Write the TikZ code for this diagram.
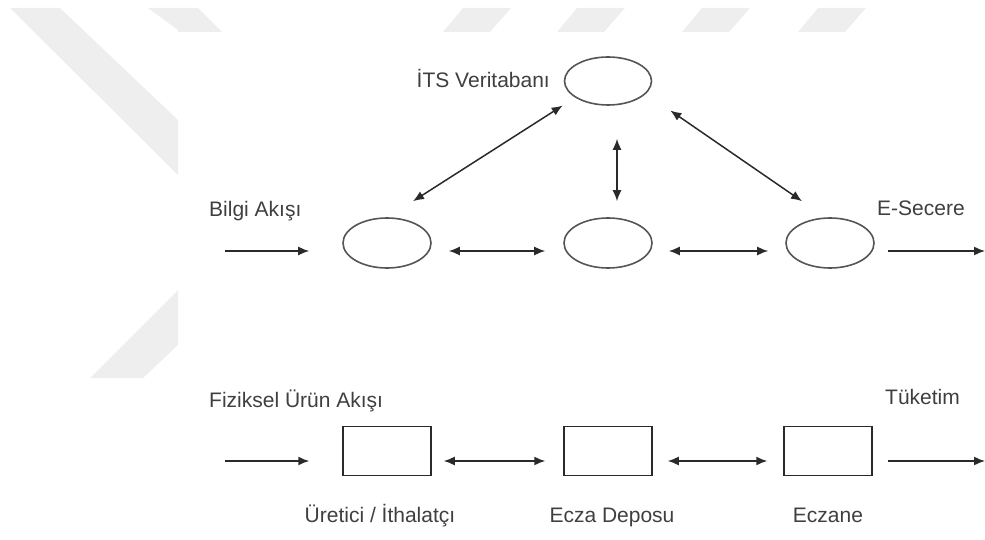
\documentclass[tikz,border=0pt]{standalone}
\usepackage{fontspec}
\setmainfont{Liberation Sans}
\usepackage{tikz}
\usetikzlibrary{arrows.meta}
\usetikzlibrary{shapes.geometric, positioning}

\definecolor{inkgray}{HTML}{2A2A2A}
\definecolor{wmgray}{HTML}{EEEEEE}

\begin{document}
\begin{tikzpicture}[x=1pt, y=-1pt]
\tikzset{font=\fontsize{21}{25}\selectfont}
\tikzset{wmark/.style={fill=wmgray, draw=none}}
\tikzset{oval/.style={ellipse, draw=inkgray!80, line width=1.6pt, minimum width=88pt, minimum height=50pt, inner sep=0pt}}
\tikzset{box/.style={rectangle, draw=inkgray, line width=1.5pt, minimum width=88pt, minimum height=49pt, inner sep=0pt}}
\tikzset{lbl/.style={text=inkgray!90, inner sep=0pt, text height=15pt, text depth=5pt}}
\tikzset{arr/.style={draw=inkgray, line width=1.5pt, -{Latex[length=11pt, width=9pt]}}}
\tikzset{dbl/.style={arr, {Latex[length=11pt, width=9pt]}-{Latex[length=11pt, width=9pt]}}}
\useasboundingbox (0,0) rectangle (985,540);
% watermark
\fill[wmark] (10,8) -- (60,8) -- (178,120) -- (178,175) -- cycle;
\fill[wmark] (90,378) -- (143,378) -- (178,345) -- (178,290) -- cycle;
\fill[wmark] (148,8) -- (198,8) -- (222,32) -- (178,32) -- (178,30) -- cycle;
\foreach \sx in {463,577,702,818}
  \fill[wmark] (\sx,8) -- (\sx+48,8) -- (\sx+27,32) -- (\sx-20,32) -- cycle;
% database
\node[oval, minimum width=87pt, minimum height=48pt] (its) at (608,81) {};
\node[lbl, anchor=east] (itslbl) at (550,83) {İTS Veritabanı};
% information flow
\node[oval] (e1) at (387,243) {};
\node[oval] (e2) at (608,243) {};
\node[oval] (e3) at (830,243) {};
\coordinate (in1) at (225,251);
\coordinate (out1) at (985,251);
\node[lbl, anchor=west] (bilgi) at (209,212) {Bilgi Akışı};
\node[lbl, anchor=west] (secere) at (877,211) {E-Secere};
\draw[arr] (in1) -- ([shift={(-33pt,-8pt)}]e1.west);
\draw[dbl] ([shift={(17pt,-8pt)}]e1.east) -- ([shift={(-18pt,-8pt)}]e2.west);
\draw[dbl] ([shift={(16pt,-8pt)}]e2.east) -- ([shift={(-17pt,-8pt)}]e3.west);
\draw[arr] ([shift={(13pt,-8pt)}]e3.east) -- (out1);
\draw[dbl] ([shift={(-14pt,-7pt)}]its.south west) -- ([shift={(26pt,16pt)}]e1.north);
\draw[dbl] ([shift={(9pt,-33pt)}]its.south) -- ([shift={(9pt,16pt)}]e2.north);
\draw[dbl] ([shift={(31pt,-12pt)}]its.south east) -- ([shift={(-28pt,16pt)}]e3.north);
% product flow
\node[box] (r1) at (387,451) {};
\node[box] (r2) at (608,451) {};
\node[box] (r3) at (828,451) {};
\coordinate (in2) at (225,461);
\coordinate (out2) at (985,461);
\node[lbl, anchor=west] (fiziksel) at (209,402) {Fiziksel Ürün Akışı};
\node[lbl, anchor=west] (tuketim) at (885,399) {Tüketim};
\node[lbl, below=31pt of r1, xshift=-7pt] (uretici) {Üretici / İthalatçı};
\node[lbl, below=31pt of r2, xshift=4pt] (depo) {Ecza Deposu};
\node[lbl, below=31pt of r3] (eczane) {Eczane};
\draw[arr] (in2) -- ([shift={(-33pt,-10pt)}]r1.west);
\draw[dbl] ([shift={(12pt,-10pt)}]r1.east) -- ([shift={(-18pt,-10pt)}]r2.west);
\draw[dbl] ([shift={(15pt,-10pt)}]r2.east) -- ([shift={(-16pt,-10pt)}]r3.west);
\draw[arr] ([shift={(15pt,-10pt)}]r3.east) -- (out2);
\end{tikzpicture}
\end{document}
